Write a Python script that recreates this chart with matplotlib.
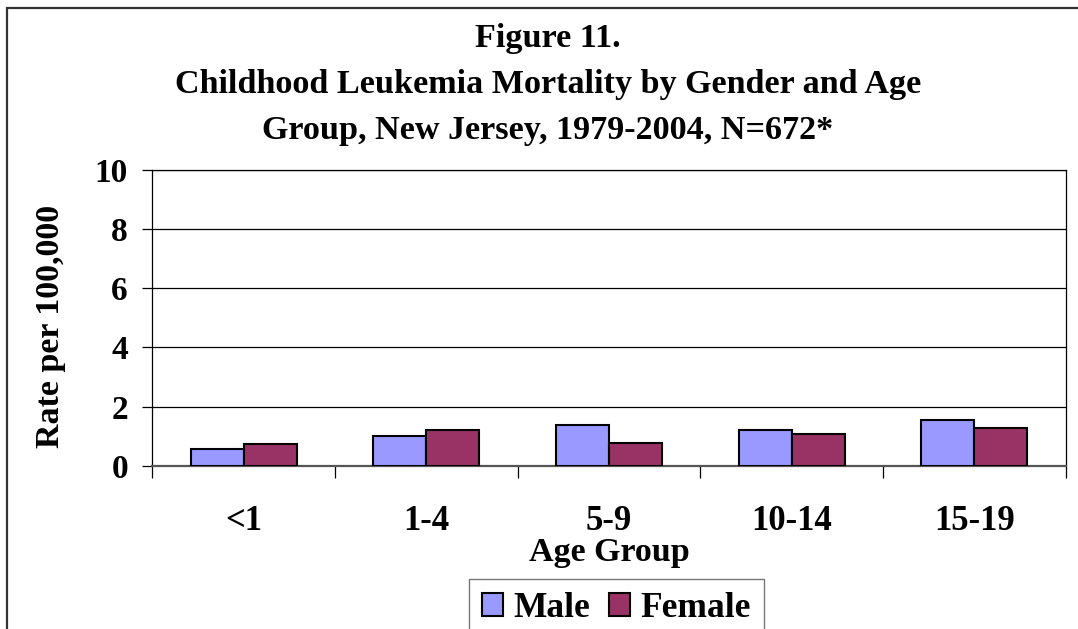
import numpy as np
import matplotlib
matplotlib.use("Agg")
import matplotlib.pyplot as plt
from matplotlib.patches import Rectangle

plt.rcParams['font.family'] = ['Liberation Serif', 'DejaVu Serif']
plt.rcParams['font.weight'] = 'bold'

age_groups = ["<1", "1-4", "5-9", "10-14", "15-19"]
male = [0.56, 0.99, 1.36, 1.20, 1.56]
female = [0.72, 1.20, 0.78, 1.07, 1.27]

male_color = '#9999FF'
female_color = '#993366'

fig = plt.figure(figsize=(10.78, 6.29), dpi=100)

# plot area, pixel positions
W, H = 1078, 629
left, right, top, bottom = 152.3, 1065.7, 170, 465.7
ax = fig.add_axes([left / W, 1 - bottom / H, (right - left) / W, (bottom - top) / H])

x = np.arange(len(age_groups))
bw = 0.29
ax.bar(x - bw / 2, male, bw, color=male_color, edgecolor='black', linewidth=1.5, label='Male', zorder=3)
ax.bar(x + bw / 2, female, bw, color=female_color, edgecolor='black', linewidth=1.5, label='Female', zorder=3)

ax.set_xlim(-0.5, len(age_groups) - 0.5)
ax.set_ylim(0, 10)
ax.set_yticks(np.arange(0, 11, 2))
ax.yaxis.grid(True, color='black', linewidth=0.9, zorder=0)

# category boundaries get the tick marks, centers get the labels
ax.set_xticks(np.arange(-0.5, len(age_groups)), labels=[''] * (len(age_groups) + 1))
ax.set_xticks(x, labels=age_groups, minor=True)
ax.tick_params(axis='x', which='major', direction='out', length=8.5, width=0.9)
ax.tick_params(axis='x', which='minor', length=0, pad=28, labelsize=25)
ax.tick_params(axis='y', direction='out', length=7.5, width=0.9, pad=10, labelsize=24)

for s in ['top', 'right', 'left']:
    ax.spines[s].set_linewidth(0.9)
ax.spines['bottom'].set_color('#555555')
ax.spines['bottom'].set_linewidth(1.6)

ax.set_xlabel("Age Group", fontsize=24.5, fontweight='bold', va='center')
ax.xaxis.set_label_coords(0.5, -0.295)
ax.set_ylabel("Rate per 100,000", fontsize=24.5, fontweight='bold', va='center')
ax.yaxis.set_label_coords(-0.111, 0.472)

title_lines = ["Figure 11.",
               "Childhood Leukemia Mortality by Gender and Age",
               "Group, New Jersey, 1979-2004, N=672*"]
for i, line in enumerate(title_lines):
    fig.text(548 / W, 1 - (39 + 46 * i) / H, line, ha='center', va='center',
             fontsize=24.6, fontweight='bold')

leg = fig.legend(loc='upper left', bbox_to_anchor=(469 / W, 1 - 579 / H), ncol=2,
                 fontsize=25.5, frameon=True, fancybox=False, edgecolor='#555555',
                 handlelength=0.6, handleheight=0.6, handletextpad=0.28,
                 columnspacing=0.54, borderpad=0.37, borderaxespad=0)
leg.get_frame().set_linewidth(1.0)

# outer chart border (left and top edges visible in the reference)
fig.patches.append(Rectangle((7 / W, -0.2), 1.2, 1.2 - 8 / H, transform=fig.transFigure,
                             fill=False, edgecolor='#333333', linewidth=1.6))

fig.savefig("out.png", dpi=100)
